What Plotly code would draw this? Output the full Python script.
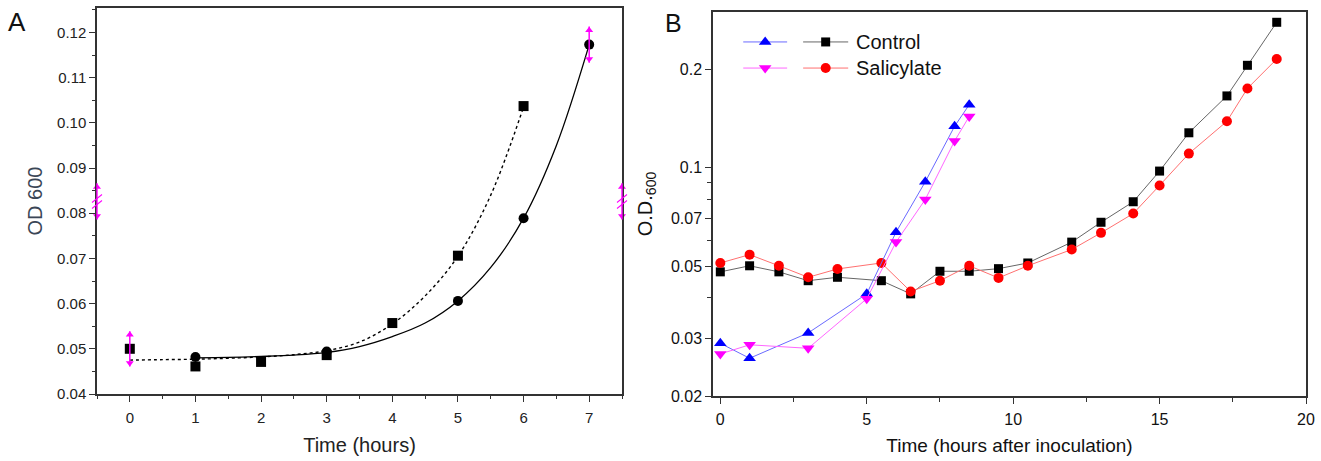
import numpy as np
import plotly.graph_objects as go

# ---------------- data ----------------
# Panel A
a_sq_t = [0, 1, 2, 3, 4, 5, 6]
a_sq_od = [0.0500, 0.0461, 0.0471, 0.0486, 0.0557, 0.0706, 0.1037]
a_ci_t = [1, 3, 5, 6, 7]
a_ci_od = [0.0482, 0.0494, 0.0606, 0.0789, 0.1173]
a_fit_sq_t = [0, 0.5, 1, 1.5, 2, 2.5, 3, 3.5, 4, 4.5, 5, 5.5, 6]
a_fit_sq_od = [0.0475, 0.0476, 0.0477, 0.0479, 0.0482, 0.0487, 0.0496, 0.0515,
               0.0555, 0.0617, 0.0705, 0.0840, 0.1035]
a_fit_ci_t = [1, 1.5, 2, 2.5, 3, 3.5, 4, 4.5, 5, 5.5, 6, 6.5, 7]
a_fit_ci_od = [0.0480, 0.0481, 0.0483, 0.0486, 0.0492, 0.0505, 0.0527, 0.0557,
               0.0606, 0.0680, 0.0789, 0.0950, 0.1173]
a_err_t = [0, 7]
a_err_od = [0.0500, 0.1173]
a_err = [0.0039, 0.0040]

# Panel B
b_t1 = [0, 1, 3, 5, 6, 7, 8, 8.5]
b_ctrl1 = [0.0290, 0.0261, 0.0312, 0.0411, 0.0635, 0.0906, 0.134, 0.156]
b_sal1 = [0.0269, 0.0287, 0.0280, 0.0397, 0.0592, 0.0800, 0.1208, 0.1436]
b_t2 = [0, 1, 2, 3, 4, 5.5, 6.5, 7.5, 8.5, 9.5, 10.5, 12, 13, 14.1, 15, 16, 17.3, 18, 19]
b_ctrl2 = [0.0480, 0.0501, 0.0480, 0.0451, 0.0462, 0.0451, 0.0411, 0.0482, 0.0482, 0.0491,
           0.0511, 0.0592, 0.0681, 0.0787, 0.0977, 0.128, 0.166, 0.206, 0.279]
b_sal2 = [0.0511, 0.0542, 0.0501, 0.0462, 0.0490, 0.0511, 0.0418, 0.0451, 0.0501, 0.0460,
          0.0501, 0.0562, 0.0632, 0.0724, 0.0883, 0.1105, 0.1388, 0.175, 0.2153]

b_ytick_vals = [0.02, 0.03, 0.05, 0.07, 0.1, 0.2]
b_ytick_text = ["0.02", "0.03", "0.05", "0.07", "0.1", "0.2"]
b_yminor_vals = [0.04, 0.06, 0.08, 0.09]
legend_labels = ["Control", "Salicylate"]

# ---------------- layout geometry ----------------
W, H = 1321, 461
A_dx = [97 / W, 622 / W]
A_dy = [1 - 394 / H, 1 - 8 / H]
B_dx = [713 / W, 1306 / W]
B_dy = [1 - 396 / H, 1 - 12 / H]
A_xr = [-0.5, 7.5]
A_yr = [0.04, 0.1254]

FONT = "Liberation Sans, Arial, sans-serif"
MAG = "#ff00ff"

fig = go.Figure()

# ---- Panel A ----
fig.add_trace(go.Scatter(x=a_fit_sq_t, y=a_fit_sq_od, mode="lines",
                         line=dict(color="black", width=1.4, dash="dot", shape="spline"),
                         xaxis="x", yaxis="y", showlegend=False))
fig.add_trace(go.Scatter(x=a_fit_ci_t, y=a_fit_ci_od, mode="lines",
                         line=dict(color="black", width=1.3, shape="spline"),
                         xaxis="x", yaxis="y", showlegend=False))
fig.add_trace(go.Scatter(x=a_sq_t, y=a_sq_od, mode="markers",
                         marker=dict(symbol="square", size=10, color="black"),
                         xaxis="x", yaxis="y", showlegend=False))
fig.add_trace(go.Scatter(x=a_ci_t, y=a_ci_od, mode="markers",
                         marker=dict(symbol="circle", size=10, color="black"),
                         xaxis="x", yaxis="y", showlegend=False))
# magenta double arrows at data points
fig.add_trace(go.Scatter(x=a_err_t, y=a_err_od, mode="markers",
                         marker=dict(size=0.1, color=MAG),
                         error_y=dict(type="data", array=a_err, color=MAG, thickness=1.5, width=0),
                         xaxis="x", yaxis="y", showlegend=False))
up = [v + e * 0.8 for v, e in zip(a_err_od, a_err)]
dn = [v - e * 0.8 for v, e in zip(a_err_od, a_err)]
fig.add_trace(go.Scatter(x=a_err_t, y=up, mode="markers",
                         marker=dict(symbol="triangle-up", size=7, color=MAG),
                         xaxis="x", yaxis="y", showlegend=False, cliponaxis=False))
fig.add_trace(go.Scatter(x=a_err_t, y=dn, mode="markers",
                         marker=dict(symbol="triangle-down", size=7, color=MAG),
                         xaxis="x", yaxis="y", showlegend=False, cliponaxis=False))

# axis-break symbols (decoration on the left/right axes of panel A)
brk_c = 0.0826
brk_half = 0.0040
brk_x = [A_xr[0], A_xr[1]]
fig.add_trace(go.Scatter(x=brk_x, y=[brk_c + brk_half * 0.8] * 2, mode="markers",
                         marker=dict(symbol="triangle-up", size=7, color=MAG),
                         xaxis="x", yaxis="y", showlegend=False, cliponaxis=False))
fig.add_trace(go.Scatter(x=brk_x, y=[brk_c - brk_half * 0.8] * 2, mode="markers",
                         marker=dict(symbol="triangle-down", size=7, color=MAG),
                         xaxis="x", yaxis="y", showlegend=False, cliponaxis=False))

# ---- Panel B ----
def bline(x, y, col, lcol, sym, size):
    return go.Scatter(x=x, y=y, mode="lines+markers",
                      line=dict(color=lcol, width=1),
                      marker=dict(symbol=sym, size=size, color=col),
                      xaxis="x2", yaxis="y2", showlegend=False)

fig.add_trace(bline(b_t2, b_ctrl2, "black", "#666666", "square", 9))
fig.add_trace(bline(b_t2, b_sal2, "#ff0000", "#ff7070", "circle", 10))
fig.add_trace(bline(b_t1, b_ctrl1, "#0000ff", "#6a6aff", "triangle-up", 11))
fig.add_trace(bline(b_t1, b_sal1, MAG, "#ff66ff", "triangle-down", 11))

# custom legend in an overlay axis (0..1 box of panel B)
leg_rows = [0.922, 0.854]
leg_specs = [
    [("#0000ff", "#6a6aff", "triangle-up", 11), ("black", "#666666", "square", 9)],
    [(MAG, "#ff66ff", "triangle-down", 11), ("#ff0000", "#ff7070", "circle", 10)],
]
seg_x = [(0.051, 0.125), (0.152, 0.228)]
for ry, specs in zip(leg_rows, leg_specs):
    for (x0, x1), (col, lcol, sym, sz) in zip(seg_x, specs):
        fig.add_trace(go.Scatter(x=[x0, x1], y=[ry, ry], mode="lines",
                                 line=dict(color=lcol, width=1),
                                 xaxis="x3", yaxis="y3", showlegend=False))
        fig.add_trace(go.Scatter(x=[(x0 + x1) / 2], y=[ry], mode="markers",
                                 marker=dict(symbol=sym, size=sz, color=col),
                                 xaxis="x3", yaxis="y3", showlegend=False))

annotations = []
for ry, lab in zip(leg_rows, legend_labels):
    annotations.append(dict(x=0.238, y=ry, xref="x3", yref="y3", text=lab, showarrow=False,
                            xanchor="left", yanchor="middle",
                            font=dict(family=FONT, size=20, color="#111")))

annotations.append(dict(x=16.5 / W, y=1 - 22 / H, xref="paper", yref="paper", text="A",
                        showarrow=False, xanchor="center", yanchor="middle",
                        font=dict(family=FONT, size=26, color="#111")))
annotations.append(dict(x=673 / W, y=1 - 23 / H, xref="paper", yref="paper", text="B",
                        showarrow=False, xanchor="center", yanchor="middle",
                        font=dict(family=FONT, size=25, color="#111")))

def ay_paper(v):
    return A_dy[0] + (v - A_yr[0]) / (A_yr[1] - A_yr[0]) * (A_dy[1] - A_dy[0])

shapes = []
for xp in [A_dx[0], A_dx[1]]:
    shapes.append(dict(type="line", xref="paper", yref="paper",
                       x0=xp, x1=xp, y0=ay_paper(brk_c - brk_half), y1=ay_paper(brk_c + brk_half),
                       line=dict(color=MAG, width=1.4)))
    yc0 = ay_paper(brk_c)
    for off in (-3, 3):
        yc = yc0 + off / H
        shapes.append(dict(type="line", xref="paper", yref="paper",
                           x0=xp - 5 / W, x1=xp + 5 / W, y0=yc - 4 / H, y1=yc + 4 / H,
                           line=dict(color=MAG, width=1.1)))

axis_common = dict(showgrid=False, zeroline=False, showline=True, linecolor="#333",
                   linewidth=1.5, ticks="outside", tickcolor="#333", tickwidth=1.3,
                   automargin=False)

fig.update_layout(
    width=W, height=H,
    margin=dict(l=0, r=0, t=0, b=0),
    paper_bgcolor="white", plot_bgcolor="white",
    font=dict(family=FONT, color="#111"),
    showlegend=False,
    xaxis=dict(domain=A_dx, anchor="y", range=A_xr, tickvals=list(range(8)),
               ticklen=6, mirror=True, ticklabelstandoff=3,
               minor=dict(dtick=0.5, tick0=0, ticklen=3, ticks="outside", tickcolor="#333"),
               tickfont=dict(size=15, family=FONT, color="#222"),
               title=dict(text="Time (hours)", font=dict(size=20, family=FONT, color="#222"),
                          standoff=13),
               **axis_common),
    yaxis=dict(domain=A_dy, anchor="x", range=A_yr, dtick=0.01, tick0=0.04,
               tickformat=".2f", ticklen=6, mirror=True,
               minor=dict(dtick=0.005, tick0=0.04, ticklen=3, ticks="outside", tickcolor="#333"),
               tickfont=dict(size=15, family=FONT, color="#222"),
               title=dict(text="OD 600", font=dict(size=20, family=FONT, color="#3a4656"),
                          standoff=9),
               **axis_common),
    xaxis2=dict(domain=B_dx, anchor="y2", range=[-0.25, 20], dtick=5, tick0=0,
                ticklen=6, mirror=True, ticklabelstandoff=2,
                minor=dict(dtick=2.5, tick0=0, ticklen=4, ticks="outside", tickcolor="#333"),
                tickfont=dict(size=16, family=FONT, color="#111"),
                title=dict(text="Time (hours after inoculation)",
                           font=dict(size=19, family=FONT, color="#111"), standoff=12),
                **axis_common),
    yaxis2=dict(domain=B_dy, anchor="x2", type="log",
                range=[np.log10(0.02), np.log10(0.3)],
                tickmode="array", tickvals=b_ytick_vals, ticktext=b_ytick_text,
                ticklen=6, mirror=True,
                minor=dict(tickmode="array", tickvals=b_yminor_vals, ticklen=4,
                           ticks="outside", tickcolor="#333"),
                tickfont=dict(size=16, family=FONT, color="#111"),
                title=dict(text="O.D.<sub>600</sub>", font=dict(size=20, family=FONT, color="#111"),
                           standoff=13),
                **axis_common),
    xaxis3=dict(overlaying="x2", anchor="y3", range=[0, 1], visible=False),
    yaxis3=dict(overlaying="y2", anchor="x3", range=[0, 1], visible=False),
    annotations=annotations,
    shapes=shapes,
)

fig.write_html("out.html", config={"displayModeBar": False},
               post_script="document.body.style.margin='0px';")
